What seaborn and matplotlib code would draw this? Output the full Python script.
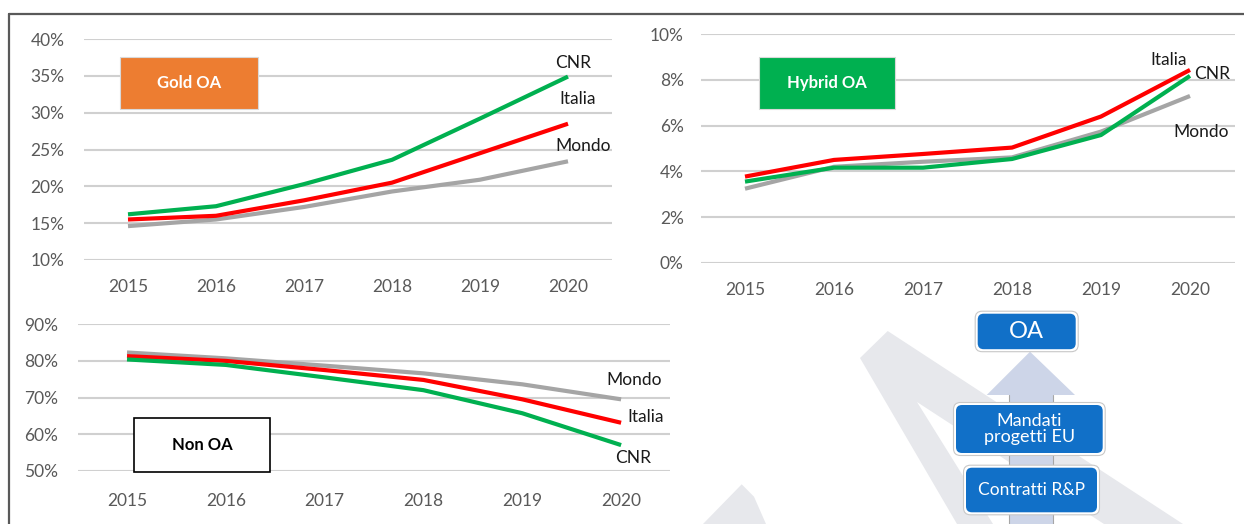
import numpy as np
import pandas as pd
import seaborn as sns
import matplotlib.pyplot as plt
from matplotlib.patches import Rectangle, Polygon, FancyBboxPatch
from matplotlib.lines import Line2D

# dati (valori in frazione)
years = ["2015", "2016", "2017", "2018", "2019", "2020"]
series = ["Mondo", "Italia", "CNR"]

gold_cnr = [0.162, 0.173, 0.203, 0.236, 0.292, 0.349]
gold_italia = [0.155, 0.160, 0.181, 0.205, 0.245, 0.285]
gold_mondo = [0.146, 0.155, 0.172, 0.193, 0.209, 0.234]

hybrid_cnr = [0.0355, 0.0416, 0.0416, 0.0454, 0.0559, 0.0818]
hybrid_italia = [0.0377, 0.0450, 0.0476, 0.0504, 0.0640, 0.0844]
hybrid_mondo = [0.0324, 0.0420, 0.0442, 0.0461, 0.0574, 0.0730]

nonoa_cnr = [0.804, 0.789, 0.755, 0.720, 0.657, 0.570]
nonoa_italia = [0.813, 0.800, 0.775, 0.748, 0.695, 0.631]
nonoa_mondo = [0.823, 0.807, 0.787, 0.766, 0.736, 0.695]

colori = {"Mondo": "#A5A5A5", "Italia": "#FF0000", "CNR": "#00B050"}

W, H = 1244, 524
sns.set_theme(style="white")
plt.rcParams['font.family'] = ['Lato', 'DejaVu Sans']

fig = plt.figure(figsize=(W / 100, H / 100), dpi=100)


def px_axes(x0, x1, y0, y1):
    # rettangolo in pixel -> coordinate figura
    return fig.add_axes([x0 / W, 1 - y1 / H, (x1 - x0) / W, (y1 - y0) / H])


def pannello(ax, valori, ylim, passo, fmt, pad_y, pad_x, etichette):
    df = pd.DataFrame({
        "pos": list(range(len(years))) * 3,
        "val": valori["Mondo"] + valori["Italia"] + valori["CNR"],
        "serie": ["Mondo"] * 6 + ["Italia"] * 6 + ["CNR"] * 6,
    })
    sns.lineplot(data=df, x="pos", y="val", hue="serie", hue_order=series,
                 palette=colori, linewidth=3.0, legend=False, ax=ax,
                 solid_capstyle="butt")
    ax.set_xlim(-0.5, 5.5)
    ax.set_ylim(*ylim)
    ax.set_yticks(np.arange(ylim[0], ylim[1] + passo / 2, passo))
    ax.set_yticklabels([fmt.format(v * 100) for v in ax.get_yticks()])
    ax.set_xticks(range(len(years)))
    ax.set_xticklabels(years)
    ax.set_xlabel("")
    ax.set_ylabel("")
    ax.yaxis.grid(True, color="#D0D0D0", linewidth=1.5)
    ax.xaxis.grid(False)
    ax.set_axisbelow(True)
    for s in ax.spines.values():
        s.set_visible(False)
    ax.tick_params(axis="y", length=0, pad=pad_y, labelsize=12.5, labelcolor="#595959")
    ax.tick_params(axis="x", length=0, pad=pad_x, labelsize=12.5, labelcolor="#595959")
    ax.patch.set_alpha(0)
    for nome, (x, y) in etichette.items():
        ax.text(x, y, nome, ha="center", va="center", fontsize=12.5,
                color="#1A1A1A", clip_on=False)


ax1 = px_axes(84, 612, 39, 260)
pannello(ax1, {"Mondo": gold_mondo, "Italia": gold_italia, "CNR": gold_cnr},
         (0.10, 0.40), 0.05, "{:.0f}%", 14, 14,
         {"CNR": (5.06, 0.3675), "Italia": (5.11, 0.319), "Mondo": (5.17, 0.255)})

ax2 = px_axes(700.5, 1234.5, 34.3, 262.7)
pannello(ax2, {"Mondo": hybrid_mondo, "Italia": hybrid_italia, "CNR": hybrid_cnr},
         (0.0, 0.10), 0.02, "{:.0f}%", 12, 14,
         {"Italia": (4.76, 0.0887), "CNR": (5.25, 0.0826), "Mondo": (5.13, 0.0572)})

ax3 = px_axes(77.6, 670.5, 324.3, 470.7)
pannello(ax3, {"Mondo": nonoa_mondo, "Italia": nonoa_italia, "CNR": nonoa_cnr},
         (0.50, 0.90), 0.10, "{:.0f}%", 14, 16,
         {"Mondo": (5.13, 0.748), "Italia": (5.25, 0.647), "CNR": (5.12, 0.535)})

# livello decorazioni in pixel
deco = fig.add_axes([0, 0, 1, 1], zorder=5)
deco.set_xlim(0, W)
deco.set_ylim(H, 0)
deco.axis("off")
deco.patch.set_alpha(0)

# cornice
deco.add_line(Line2D([9, W], [14, 14], color="#595959", linewidth=1.6))
deco.add_line(Line2D([9, 9], [14, H], color="#595959", linewidth=1.6))

# etichette dei pannelli
deco.add_patch(Rectangle((120, 57), 138, 52, facecolor="#ED7D31", edgecolor="#D9D9D9", linewidth=0.8))
deco.text(189, 83, "Gold OA", ha="center", va="center", color="white", fontsize=12, fontweight="bold")
deco.add_patch(Rectangle((759, 57), 136, 52, facecolor="#00B050", edgecolor="#D9D9D9", linewidth=0.8))
deco.text(827, 83, "Hybrid OA", ha="center", va="center", color="white", fontsize=12, fontweight="bold")
deco.add_patch(Rectangle((133.5, 418), 136.5, 54, facecolor="white", edgecolor="black", linewidth=1.2))
deco.text(202, 445, "Non OA", ha="center", va="center", color="black", fontsize=12, fontweight="bold")

# forme grigie di sfondo
grigio = "#E7E8EC"
deco.add_patch(Polygon([(860, 358), (887.7, 331), (1183, 524), (1104, 524),
                        (917, 402), (993, 524), (957, 524)],
                       closed=True, facecolor=grigio, edgecolor="none", zorder=1))
deco.add_patch(Polygon([(703, 524), (741.7, 484.3), (754, 496.7), (766, 524)],
                       closed=True, facecolor=grigio, edgecolor="none", zorder=1))

# freccia
freccia = "#CDD5E8"
deco.add_patch(Polygon([(986.7, 395), (1030, 351.7), (1075, 395)],
                       closed=True, facecolor=freccia, edgecolor="none", zorder=1.5))
deco.add_patch(Rectangle((1009.3, 395), 44, H - 395, facecolor=freccia, edgecolor="none", zorder=1.5))
deco.add_line(Line2D([1009.3, 1009.3], [395, H], color="#A6A6A6", linewidth=0.8, zorder=1.6))
deco.add_line(Line2D([1053.3, 1053.3], [395, H], color="#A6A6A6", linewidth=0.8, zorder=1.6))

# riquadri blu
blu = "#1170C8"
riquadri = [
    ((976.7, 312.7, 100, 37.5), "OA", 17),
    ((955, 404, 148.7, 50), "Mandati\nprogetti EU", 13),
    ((965, 466.7, 133, 46.6), "Contratti R&P", 12.5),
]
for (x, y, w, h), testo, fs in riquadri:
    deco.add_patch(FancyBboxPatch((x - 1.5, y - 1.5), w + 3, h + 3,
                                  boxstyle="round,pad=0,rounding_size=7",
                                  facecolor="white", edgecolor="#C8C8C8", linewidth=0.8,
                                  zorder=3))
    deco.add_patch(FancyBboxPatch((x + 1, y + 1), w - 2, h - 2,
                                  boxstyle="round,pad=0,rounding_size=6",
                                  facecolor=blu, edgecolor="none", zorder=3.1))
    deco.text(x + w / 2, y + h / 2, testo, ha="center", va="center", color="white",
              fontsize=fs, linespacing=1.05, zorder=4)

fig.savefig("out.png", dpi=100)
